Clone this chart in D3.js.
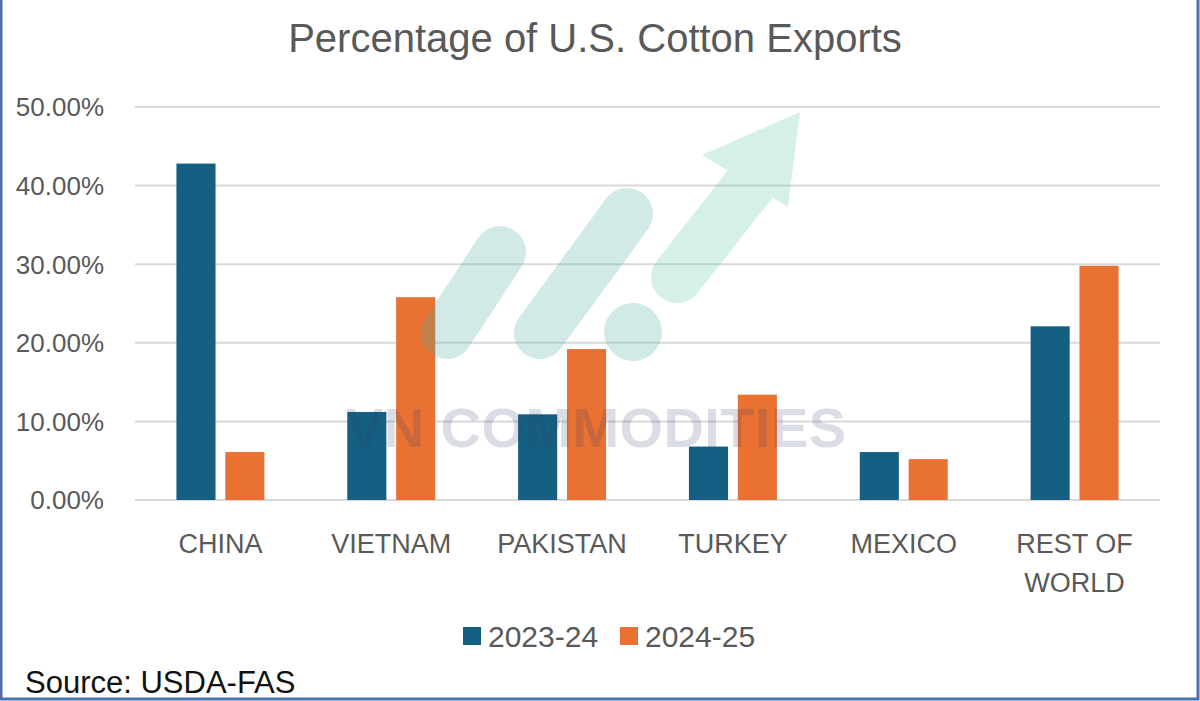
<!DOCTYPE html>
<html>
<head>
<meta charset="utf-8">
<script src="https://cdn.jsdelivr.net/npm/d3@7"></script>
<style>
  html, body { margin: 0; padding: 0; background: #fff; }
  svg { display: block; font-family: "Liberation Sans", Arial, sans-serif; }
</style>
</head>
<body>
<div id="chart"></div>
<script>
// data
var categories = ["CHINA", "VIETNAM", "PAKISTAN", "TURKEY", "MEXICO", "REST OF WORLD"];
var seriesNames = ["2023-24", "2024-25"];
var values2324 = [42.8, 11.2, 10.9, 6.8, 6.1, 22.1];
var values2425 = [6.1, 25.8, 19.2, 13.4, 5.2, 29.8];
var yTicks = [0, 10, 20, 30, 40, 50];

var width = 1200,
    height = 701;

var colors = ["#156082", "#E97132"];
var textGrey = "#595959";

var svg = d3.select("#chart").append("svg")
    .attr("width", width)
    .attr("height", height);

svg.append("rect")
    .attr("width", width).attr("height", height)
    .attr("fill", "#fff");

var x0 = d3.scaleBand()
    .domain(categories)
    .range([135, 1160])
    .paddingInner(0.485)
    .paddingOuter(0.2425);

var x1 = d3.scaleBand()
    .domain(seriesNames)
    .range([0, x0.bandwidth()])
    .paddingInner(0.2);

var y = d3.scaleLinear()
    .domain([0, 50])
    .range([500, 107]);

// gridlines
svg.append("g")
    .selectAll("line")
    .data(yTicks)
    .enter().append("line")
    .attr("x1", 135)
    .attr("x2", 1160)
    .attr("y1", function(d) { return y(d); })
    .attr("y2", function(d) { return y(d); })
    .attr("stroke", "#d9d9d9")
    .attr("stroke-width", 2);

// y labels
var yAxis = d3.axisLeft(y)
    .tickValues(yTicks)
    .tickSize(0)
    .tickPadding(0)
    .tickFormat(function(d) { return d3.format(".2f")(d) + "%"; });

var ya = svg.append("g")
    .attr("transform", "translate(104,0)")
    .call(yAxis);
ya.select(".domain").remove();
ya.selectAll("text")
    .attr("fill", textGrey)
    .style("font-size", "26px")
    .attr("dy", "0.34em");

// bars
var rows = categories.map(function(c, i) {
    return { cat: c, vals: [values2324[i], values2425[i]] };
});

var groups = svg.selectAll(".grp")
    .data(rows)
    .enter().append("g")
    .attr("class", "grp")
    .attr("transform", function(d) { return "translate(" + x0(d.cat) + ",0)"; });

groups.selectAll("rect")
    .data(function(d) { return d.vals.map(function(v, j) { return { s: seriesNames[j], v: v, j: j }; }); })
    .enter().append("rect")
    .attr("x", function(d) { return x1(d.s); })
    .attr("y", function(d) { return y(d.v); })
    .attr("width", x1.bandwidth())
    .attr("height", function(d) { return y(0) - y(d.v); })
    .attr("fill", function(d) { return colors[d.j]; });

// category labels
var xl = svg.append("g");
categories.forEach(function(c) {
    var words = c === "REST OF WORLD" ? ["REST OF", "WORLD"] : [c];
    var t = xl.append("text")
        .attr("x", x0(c) + x0.bandwidth() / 2)
        .attr("y", 553)
        .attr("text-anchor", "middle")
        .attr("fill", textGrey)
        .style("font-size", "27px");
    words.forEach(function(w, k) {
        t.append("tspan")
            .attr("x", x0(c) + x0.bandwidth() / 2)
            .attr("dy", k === 0 ? 0 : 39)
            .text(w);
    });
});

// watermark logo
var logo = svg.append("g").attr("opacity", 0.25);
var pill = "#4bafa3", mint = "#5bcb9b";
logo.append("line").attr("x1", 447).attr("y1", 333).attr("x2", 500).attr("y2", 252)
    .attr("stroke", pill).attr("stroke-width", 52).attr("stroke-linecap", "round");
logo.append("line").attr("x1", 540).attr("y1", 333).attr("x2", 627).attr("y2", 214)
    .attr("stroke", pill).attr("stroke-width", 52).attr("stroke-linecap", "round");
logo.append("circle").attr("cx", 633).attr("cy", 332).attr("r", 29).attr("fill", pill);
logo.append("line").attr("x1", 677).attr("y1", 277).attr("x2", 755).attr("y2", 178)
    .attr("stroke", mint).attr("stroke-width", 52).attr("stroke-linecap", "round");
logo.append("polygon")
    .attr("points", "800,112 702,155 788,207")
    .attr("fill", mint);

svg.append("text")
    .attr("x", 596)
    .attr("y", 447)
    .attr("text-anchor", "middle")
    .attr("fill", "#2f3a6e")
    .attr("opacity", 0.17)
    .attr("textLength", 500)
    .style("font-size", "56px")
    .style("font-weight", "bold")
    .text("VN COMMODITIES");

// title
svg.append("text")
    .attr("x", 595)
    .attr("y", 52)
    .attr("text-anchor", "middle")
    .attr("fill", textGrey)
    .style("font-size", "40px")
    .text("Percentage of U.S. Cotton Exports");

// legend
var legend = svg.append("g");
var legendX = [463, 620];
seriesNames.forEach(function(s, i) {
    legend.append("rect")
        .attr("x", legendX[i]).attr("y", 627)
        .attr("width", 18).attr("height", 18)
        .attr("fill", colors[i]);
    legend.append("text")
        .attr("x", legendX[i] + 25).attr("y", 647)
        .attr("fill", textGrey)
        .style("font-size", "30px")
        .text(s);
});

// source
svg.append("text")
    .attr("x", 25)
    .attr("y", 693)
    .attr("fill", "#111")
    .style("font-size", "31px")
    .text("Source: USDA-FAS");

// frame
svg.append("path")
    .attr("d", "M1,0 V699 H1198 V0")
    .attr("fill", "none")
    .attr("stroke", "#4a72a8")
    .attr("stroke-width", 3);
</script>
</body>
</html>
